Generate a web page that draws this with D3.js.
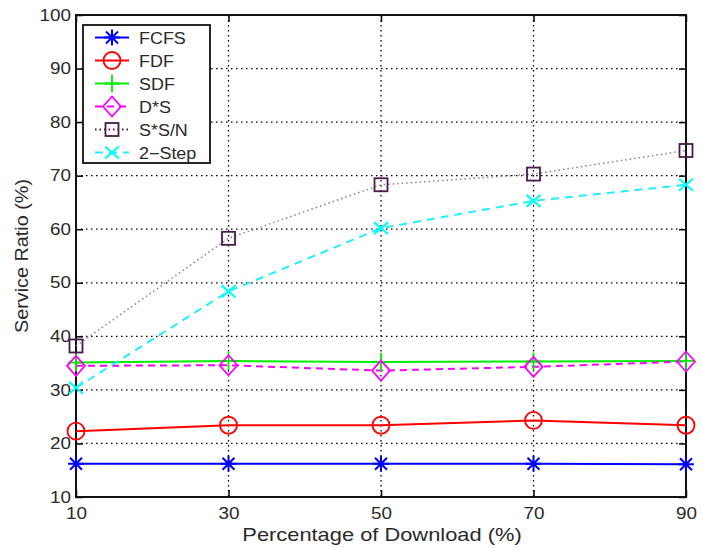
<!DOCTYPE html>
<html><head><meta charset="utf-8">
<script src="https://cdn.jsdelivr.net/npm/d3@7"></script>
<style>body{margin:0;background:#fff}svg{display:block}text{font-family:"Liberation Sans",Arial,sans-serif;fill:#2a2a2a}</style>
</head><body><svg id="c" width="702" height="548"></svg>
<script>
const xCats = [10, 30, 50, 70, 90];
const yTicks = [10, 20, 30, 40, 50, 60, 70, 80, 90, 100];
const seriesNames = ["FCFS", "FDF", "SDF", "D*S", "S*S/N", "2\u2212Step"];
const fcfs = [16.2, 16.2, 16.2, 16.2, 16.1];
const fdf = [22.3, 23.4, 23.4, 24.3, 23.4];
const sdf = [35.1, 35.4, 35.2, 35.3, 35.4];
const dstars = [34.5, 34.6, 33.6, 34.3, 35.3];
const sssn = [38.2, 58.3, 68.3, 70.3, 74.7];
const twoStep = [30.4, 48.4, 60.2, 65.3, 68.3];
const allValues = [fcfs, fdf, sdf, dstars, sssn, twoStep];

const styles = [
  {color:"#0000ff", dash:null, marker:"star", lineColor:"#0000ff"},
  {color:"#ff0000", dash:null, marker:"circle", lineColor:"#ff0000"},
  {color:"#00ee00", dash:null, marker:"plus", lineColor:"#00ee00"},
  {color:"#ff00ff", dash:"7,5", marker:"diamond", lineColor:"#ff00ff"},
  {color:"#4b1a4b", dash:"1.5,3", marker:"square", lineColor:"#8f7f8f"},
  {color:"#00ffff", dash:"8,6", marker:"x", lineColor:"#22eeff"}
];

const svg = d3.select("#c");
const L = 76, R = 686, T = 15, B = 497;
const x = d3.scaleLinear().domain([10, 90]).range([L, R]);
const y = d3.scaleLinear().domain([10, 100]).range([B, T]);

function stretch(sel, f) {
  sel.each(function() {
    const w = this.getComputedTextLength();
    d3.select(this).attr("textLength", w * f).attr("lengthAdjust", "spacingAndGlyphs");
  });
}

// grid
const g = svg.append("g");
g.selectAll("line.gy").data(yTicks.slice(1, -1)).enter().append("line")
  .attr("x1", L).attr("x2", R).attr("y1", d => y(d)).attr("y2", d => y(d))
  .attr("stroke", "#000").attr("stroke-width", 1.3).attr("stroke-dasharray", "1.5,3.5");
g.selectAll("line.gx").data(xCats.slice(1, -1)).enter().append("line")
  .attr("y1", T).attr("y2", B).attr("x1", d => x(d)).attr("x2", d => x(d))
  .attr("stroke", "#000").attr("stroke-width", 1.3).attr("stroke-dasharray", "1.5,3.5");

// axes (inner ticks, matlab style)
const axL = d3.axisLeft(y).tickValues(yTicks).tickSizeInner(-7).tickSizeOuter(0).tickPadding(5);
const axR = d3.axisRight(y).tickValues(yTicks).tickSizeInner(-7).tickSizeOuter(0).tickFormat("");
const axB = d3.axisBottom(x).tickValues(xCats).tickSizeInner(-7).tickSizeOuter(0).tickPadding(11);
const axT = d3.axisTop(x).tickValues(xCats).tickSizeInner(-7).tickSizeOuter(0).tickFormat("");
function styleAx(sel) {
  sel.select(".domain").remove();
  sel.selectAll("line").attr("stroke", "#000").attr("stroke-width", 1.5);
  sel.selectAll("text").attr("font-size", 16).attr("fill", "#2a2a2a")
    .attr("font-family", "Liberation Sans, Arial, sans-serif");
}
const gL = svg.append("g").attr("transform", `translate(${L},0)`).call(axL).call(styleAx);
svg.append("g").attr("transform", `translate(${R},0)`).call(axR).call(styleAx);
const gB = svg.append("g").attr("transform", `translate(0,${B})`).call(axB).call(styleAx);
svg.append("g").attr("transform", `translate(0,${T})`).call(axT).call(styleAx);
stretch(gL.selectAll("text"), 1.18);
stretch(gB.selectAll("text"), 1.18);
svg.append("rect").attr("x", L).attr("y", T).attr("width", R - L).attr("height", B - T)
  .attr("fill", "none").attr("stroke", "#111").attr("stroke-width", 2);

function drawMarker(sel, type, color, cx, cy) {
  const gg = sel.append("g").attr("transform", `translate(${cx},${cy})`)
    .attr("fill", "none").attr("stroke", color).attr("stroke-width", 1.8);
  if (type === "circle") gg.append("circle").attr("r", 8.5);
  else if (type === "star") {
    gg.append("path").attr("d", "M-8,0H8M0,-8V8M-6,-6L6,6M-6,6L6,-6").attr("stroke-width", 2);
  } else if (type === "plus") gg.append("path").attr("d", "M-8,0H8M0,-9V9");
  else if (type === "diamond") gg.append("path").attr("d", "M0,-10L9,0L0,10L-9,0Z");
  else if (type === "square") gg.append("rect").attr("x", -6.5).attr("y", -6.5).attr("width", 13).attr("height", 13);
  else if (type === "x") gg.append("path").attr("d", "M-7,-6L7,6M-7,6L7,-6").attr("stroke-width", 2.2);
}

const line = d3.line().x((d, i) => x(xCats[i])).y(d => y(d));
allValues.forEach((vals, k) => {
  const s = styles[k];
  svg.append("path").datum(vals).attr("d", line).attr("fill", "none")
    .attr("stroke", s.lineColor).attr("stroke-width", k === 4 ? 1.5 : 2)
    .attr("stroke-dasharray", s.dash);
});
allValues.forEach((vals, k) => {
  const s = styles[k];
  vals.forEach((v, i) => drawMarker(svg, s.marker, s.color, x(xCats[i]), y(v)));
});

// legend
const lg = svg.append("g");
lg.append("rect").attr("x", 83).attr("y", 25).attr("width", 127).attr("height", 138)
  .attr("fill", "#fff").attr("stroke", "#111").attr("stroke-width", 1.8);
seriesNames.forEach((n, k) => {
  const s = styles[k];
  const yy = 37.5 + k * 23;
  lg.append("line").attr("x1", 95).attr("x2", 129).attr("y1", yy).attr("y2", yy)
    .attr("stroke", k === 4 ? s.color : s.lineColor).attr("stroke-width", 2).attr("stroke-dasharray", s.dash);
  drawMarker(lg, s.marker, s.color, 112, yy);
  lg.append("text").attr("x", 139).attr("y", yy + 6).attr("font-size", 16).text(n);
});
stretch(lg.selectAll("text"), 1.12);

// axis labels
const xl = svg.append("text").attr("x", 382).attr("y", 541).attr("text-anchor", "middle")
  .attr("font-size", 19).text("Percentage of Download (%)");
stretch(xl, 1.15);
const yl = svg.append("text").attr("transform", "translate(28,256) rotate(-90)").attr("text-anchor", "middle")
  .attr("font-size", 18).text("Service Ratio (%)");
stretch(yl, 1.1);
</script></body></html>
